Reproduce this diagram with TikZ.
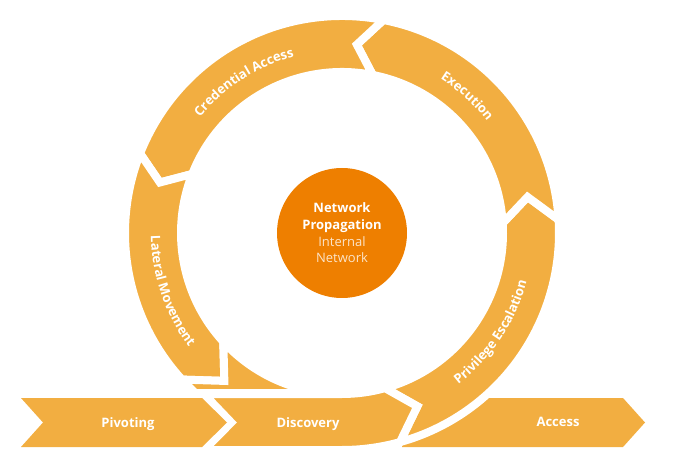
\documentclass[tikz,border=0pt]{standalone}
\usepackage{fontspec}
\setmainfont{Open Sans}
\usetikzlibrary{decorations.text}

\definecolor{segorange}{HTML}{F2AE41}
\definecolor{huborange}{HTML}{EE7F00}
\definecolor{softwhite}{HTML}{FCE4C8}

\tikzset{
  seg/.style={fill=segorange, draw=white, line width=8pt, line join=miter},
  band/.style={fill=segorange},
  % ring segment: tail angle, head angle, tail notch offset, head tip offset
  ringseg/.style n args={4}{insert path={
    (#1:217) arc[start angle=#1, end angle=#2, radius=217]
    -- ({#2+#4}:189) -- (#2:161)
    arc[start angle=#2, end angle=#1, radius=161]
    -- ({#1+#3}:189) -- cycle}},
  bandlabel/.style={text=white, font=\fontsize{13}{15}\selectfont\bfseries, anchor=base, inner sep=0pt},
  ringlabel/.style={decorate, decoration={text along path, text align=center, text color=white}},
}

\begin{document}
\begin{tikzpicture}[x=1pt, y=1pt]
\useasboundingbox (0,0) rectangle (693,458);

% outgoing band behind the ring
\path[band] (402,60) -- (623,60) -- (645,35.5) -- (623,11) -- (402,11) -- cycle;

\begin{scope}[shift={(342,225)}]
  % ring segments, counterclockwise
  \path[seg, ringseg={285.5}{363.5}{8}{7.5}];   % privilege escalation
  \path[seg, ringseg={3.5}{79}{7.5}{6.5}];       % execution
  \path[seg, ringseg={79}{158.5}{6.5}{6}];       % credential access
  \path[seg, ringseg={158.5}{222.5}{6}{9}];      % lateral movement
  % lower-left piece of the ring, cut off above the band
  \begin{scope}
    \clip (-300,-155) rectangle (300,300);
    \path[seg, ringseg={222.5}{270}{9}{0}];
  \end{scope}
  % discovery: band joined to the bottom of the ring
  \path[seg] (-138,-161) -- (270:161)
    arc[start angle=270, end angle=285.5, radius=161]
    -- (293.5:189) -- (285.5:217)
    arc[start angle=285.5, end angle=270, radius=217]
    -- (-138,-217) -- (-110.7,-189.5) -- cycle;
\end{scope}

% incoming band
\path[band] (21,60) -- (202,60) -- (227,35.5) -- (202,11) -- (21,11) -- (43,35.5) -- cycle;

\node[bandlabel] (pivoting) at (128,31) {Pivoting};
\node[bandlabel] (discovery) at (308,31) {Discovery};
\node[bandlabel] (access) at (558,32) {Access};

\begin{scope}[shift={(342,225)}]
  \node[circle, fill=huborange, minimum size=130pt, inner sep=0pt, align=center,
        text=white, font=\fontsize{13}{16.7}\selectfont] (hub) at (0,0)
    {\textbf{Network}\\\textbf{Propagation}\\{\color{softwhite}Internal}\\{\color{softwhite}Network}};

  \path[ringlabel, decoration={text={|\fontsize{13}{15}\selectfont\bfseries\color{white}|Credential Access}}]
    (165:183) arc[start angle=165, end angle=81, radius=183];
  \path[ringlabel, decoration={text={|\fontsize{13}{15}\selectfont\bfseries\color{white}|Execution}}]
    (80:183) arc[start angle=80, end angle=15, radius=183];
  \path[ringlabel, decoration={text={|\fontsize{13}{15}\selectfont\bfseries\color{white}|Lateral Movement}}]
    (160:191) arc[start angle=160, end angle=237.6, radius=191];
  \path[ringlabel, decoration={text={|\fontsize{13}{15}\selectfont\bfseries\color{white}|Privilege Escalation}}]
    (-75:191) arc[start angle=-75, end angle=7.8, radius=191];
\end{scope}
\end{tikzpicture}
\end{document}
